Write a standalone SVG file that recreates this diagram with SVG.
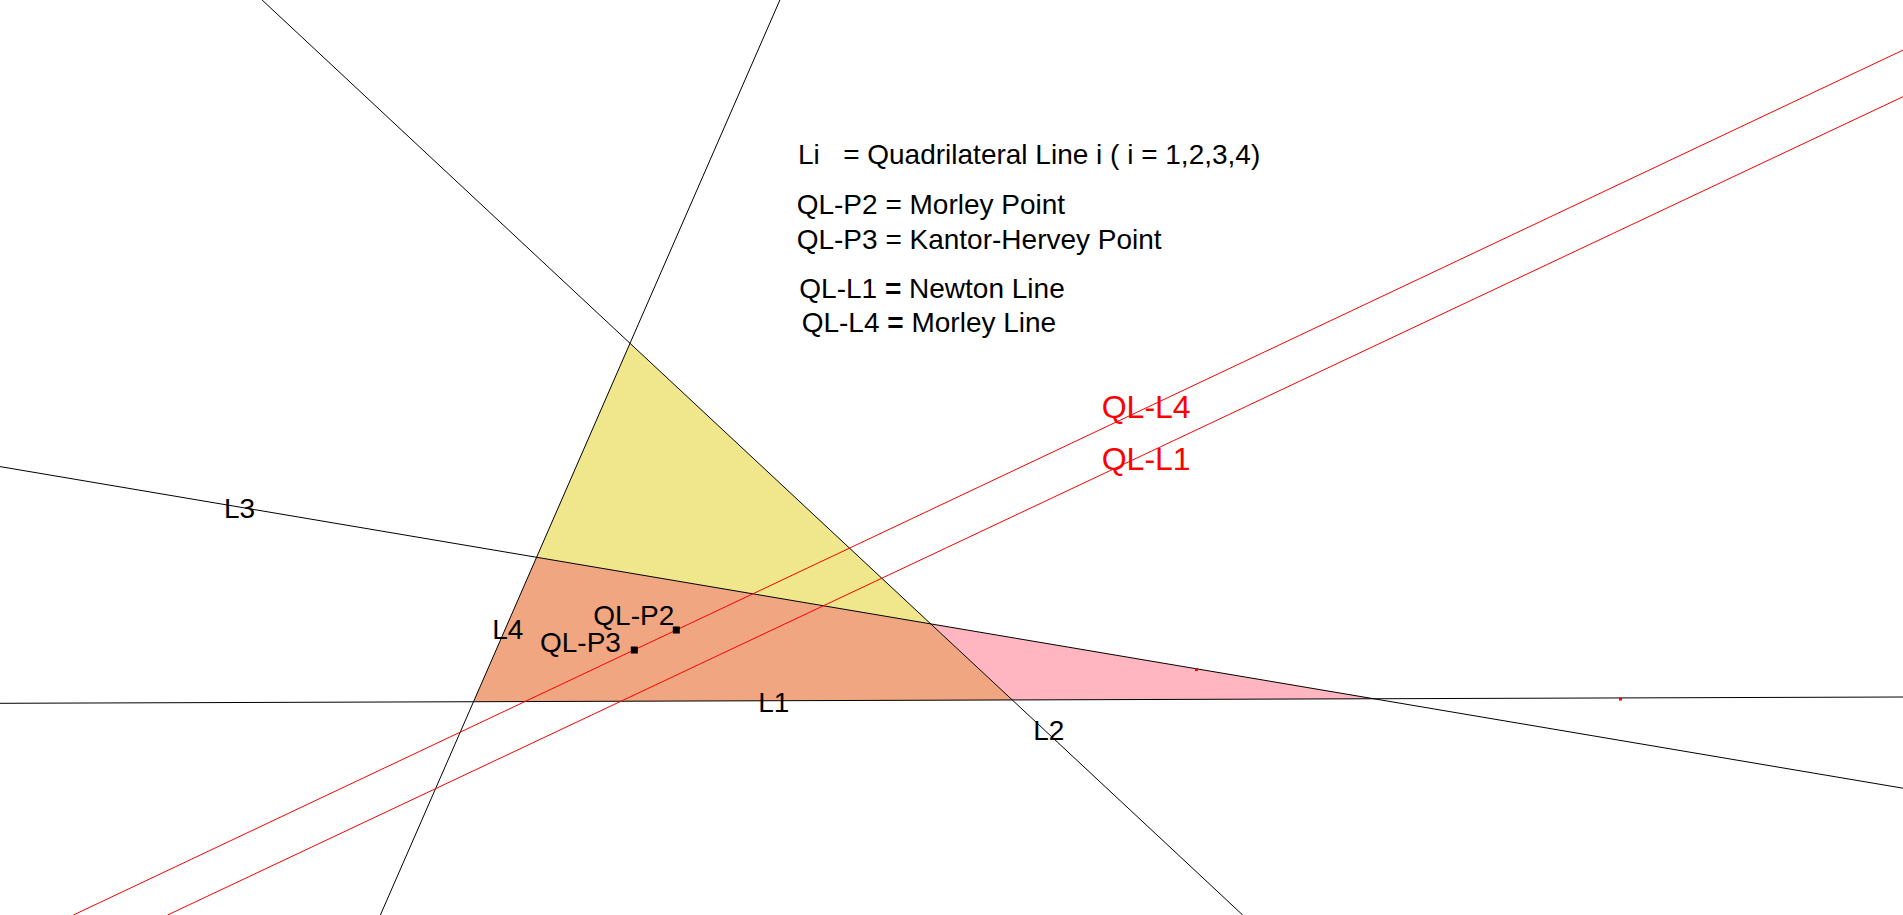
<svg xmlns="http://www.w3.org/2000/svg" width="1903" height="915" viewBox="0 0 1903 915">
<style>
text{font-family:"Liberation Sans",Arial,sans-serif;fill:#000}
.lg{font-size:28px}
.lb{font-size:28px}
.rl{font-size:32px;fill:#ff0000}
.ln{stroke:#000;stroke-width:1;fill:none}
.rd{stroke:#ff0000;stroke-width:1;fill:none}
</style>
<rect width="1903" height="915" fill="#fff"/>
<g id="regions">
<polygon id="yellow" points="630,343.3 536.7,557.3 931,624" fill="#F0E68C"/>
<polygon id="orange" points="536.7,557.3 931,624 1012.3,700 473.5,701.8" fill="#F0A680"/>
<polygon id="pink" points="931,624 1375,698.8 1012.3,700" fill="#FFB6C1"/>
</g>
<g id="connectors">
<line id="L1" class="ln" x1="0" y1="703.3" x2="1903" y2="697" stroke-width="1.4"/>
<line id="L2" class="ln" x1="262.1" y1="0" x2="1242.7" y2="915"/>
<line id="L3" class="ln" x1="0" y1="466.6" x2="1903" y2="788.2"/>
<line id="L4" class="ln" x1="779.9" y1="0" x2="380.4" y2="915"/>
<line id="QL-L4" class="rd" x1="73.4" y1="915" x2="1903" y2="50.1"/>
<line id="QL-L1" class="rd" x1="167.6" y1="915" x2="1903" y2="96.7"/>
</g>
<g id="points">
<rect id="QL-P2" x="672.8" y="626.5" width="7" height="7" fill="#000"/>
<rect id="QL-P3" x="630.8" y="646.5" width="7" height="7" fill="#000"/>
<rect x="1195" y="668" width="3" height="3" fill="#ff0000"/>
<rect x="1619" y="697.5" width="3" height="3" fill="#ff0000"/>
</g>
<g id="line-labels">
<text class="lb" x="224" y="518.3">L3</text>
<text class="lb" x="492.3" y="639.3">L4</text>
<text class="lb" x="758.3" y="711.7">L1</text>
<text class="lb" x="1033.3" y="740">L2</text>
<text class="lb" x="593.3" y="625">QL-P2</text>
<text class="lb" x="540" y="651.7">QL-P3</text>
<text class="rl" x="1101.7" y="417.7">QL-L4</text>
<text class="rl" x="1101.7" y="470">QL-L1</text>
</g>
<g id="legend">
<text class="lg" x="798" y="164" xml:space="preserve">Li   = Quadrilateral Line i ( i = 1,2,3,4)</text>
<text class="lg" x="796.7" y="214.3">QL-P2 = Morley Point</text>
<text class="lg" x="796.7" y="249">QL-P3 = Kantor-Hervey Point</text>
<text class="lg" x="799.3" y="298.3" xml:space="preserve">QL-L1 <tspan font-weight="bold">=</tspan> Newton Line</text>
<text class="lg" x="801.7" y="331.7" xml:space="preserve">QL-L4 <tspan font-weight="bold">=</tspan> Morley Line</text>
</g>
</svg>
